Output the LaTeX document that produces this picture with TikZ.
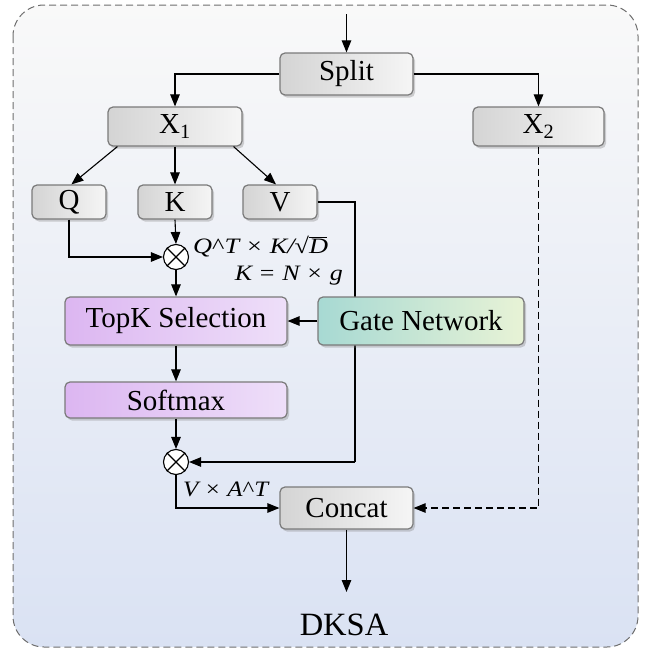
\documentclass[tikz,border=0pt]{standalone}
\usepackage{fontspec}
\usepackage{graphicx}
\setmainfont{Liberation Serif}
\usetikzlibrary{arrows.meta,shadows,calc}
\definecolor{boxedge}{HTML}{7A7A7A}
\definecolor{gl}{HTML}{D4D4D4}
\definecolor{gr}{HTML}{F5F5F5}
\definecolor{pl}{HTML}{DCB6F1}
\definecolor{pr}{HTML}{EEDFF9}
\definecolor{tl}{HTML}{A7D9D3}
\definecolor{tr}{HTML}{E8F3D6}
\definecolor{frametop}{HTML}{F9F9F9}
\definecolor{framebot}{HTML}{DAE2F3}
\definecolor{frameedge}{HTML}{6E6E6E}
\newcommand{\myroot}[1]{√\rlap{\rule[0.68em]{0.66em}{0.055em}}#1}
\newcommand{\mycaret}{{\upshape\textasciicircum}}
\begin{document}
\begin{tikzpicture}[x=1pt,y=-1pt,
  basebox/.style={draw=boxedge, line width=1.2pt, rounded corners=5pt, inner sep=0pt,
    drop shadow={shadow xshift=2pt,shadow yshift=-2.5pt,opacity=0.35},
    font=\fontsize{29}{32}\selectfont},
  graybox/.style={basebox, left color=gl, right color=gr},
  purplebox/.style={basebox, left color=pl, right color=pr},
  gatebox/.style={basebox, left color=tl, right color=tr},
  mult/.style={circle, draw=black, fill=white, line width=1.1pt, minimum size=25pt, inner sep=0pt},
  arr/.style={-{Triangle[length=12pt,width=9.5pt]}, line width=1.1pt},
  conn/.style={line width=1.1pt},
  mathlbl/.style={font=\fontsize{22}{24}\selectfont\itshape, inner sep=0pt}
]
\useasboundingbox (0,0) rectangle (654,651);
% frame
\path[draw=frameedge, line width=1pt, dash pattern=on 7pt off 4pt, rounded corners=31pt,
  top color=frametop, bottom color=framebot] (13,5) rectangle (638,647);

% nodes
\node[graybox, minimum width=133pt, minimum height=42pt] (split) at (346.5,74) {Split};
\node[graybox, minimum width=134pt, minimum height=39pt] (x1) at (175,126.5) {X\textsubscript{1}};
\node[graybox, minimum width=131pt, minimum height=39pt] (x2) at (538.5,126.5) {X\textsubscript{2}};
\node[graybox, minimum width=74pt, minimum height=34pt] (q) at (69,202) {Q};
\node[graybox, minimum width=74pt, minimum height=34pt] (k) at (175,202) {K};
\node[graybox, minimum width=74pt, minimum height=34pt] (v) at (280,202) {V};
\node[mult] (m1) at (176,257) {};
\node[mult] (m2) at (176,462) {};
\node[graybox, minimum width=133pt, minimum height=42pt] (concat) at (346.5,508) {Concat};

% V path passing behind the gate network
\coordinate (vr) at (355,202);
\draw[conn] (v.east) -- (vr) -- (vr |- m2.east);
\draw[arr] (vr |- m2.east) -- (m2.east);

\node[purplebox, minimum width=222pt, minimum height=48pt] (topk) at (176,321) {TopK Selection};
\node[gatebox, minimum width=206pt, minimum height=48pt] (gate) at (421,321) {Gate Network};
\node[purplebox, minimum width=222pt, minimum height=36pt] (softmax) at (176,400) {Softmax};

% crosses in multiply nodes
\foreach \m in {m1,m2}{
  \draw[line width=1.1pt] (\m.north west) -- (\m.south east) (\m.north east) -- (\m.south west);
}

% labels
\node[mathlbl, anchor=base west] (l1) at (193,253)
  {\resizebox{135pt}{\height}{Q\mycaret T\hspace{0.3em}\upshape×\itshape\hspace{0.3em}K/\upshape\myroot{\itshape D}}};
\node[mathlbl, anchor=base east] (l2) at (343,280)
  {\resizebox{108pt}{\height}{K\hspace{0.3em}\upshape=\itshape\hspace{0.3em}N\hspace{0.3em}\upshape×\itshape\hspace{0.3em}g}};
\node[mathlbl, anchor=base west] (l3) at (183,496)
  {\resizebox{85pt}{\height}{V\hspace{0.3em}\upshape×\itshape\hspace{0.3em}A\mycaret T}};
\node[font=\fontsize{32.5}{36}\selectfont, inner sep=0pt, anchor=base] (dksa) at (344,635) {DKSA};

% connectors
\coordinate (in) at (346.5,14);
\coordinate (out) at (346.5,592);
\draw[arr] (in) -- (split.north);
\draw[arr] (split.west) -| (x1.north);
\draw[arr] (split.east) -| (x2.north);
\draw[arr] ([xshift=10pt]x1.south west) -- ([xshift=40pt]q.north west);
\draw[arr] (x1.south) -- (k.north);
\draw[arr] ([xshift=-9pt]x1.south east) -- ([xshift=-4pt]v.north);
\draw[arr] (q.south) |- (m1.west);
\draw[arr] (k.south) -- (m1.north);
\draw[arr] (m1.south) -- (topk.north);
\draw[arr] (gate.west) -- (topk.east);
\draw[arr] (topk.south) -- (softmax.north);
\draw[arr] (softmax.south) -- (m2.north);
\draw[arr] (m2.south) |- (concat.west);
\draw[arr, dash pattern=on 7pt off 4pt] (x2.south) |- (concat.east);
\draw[arr] (concat.south) -- (out);
\end{tikzpicture}
\end{document}
